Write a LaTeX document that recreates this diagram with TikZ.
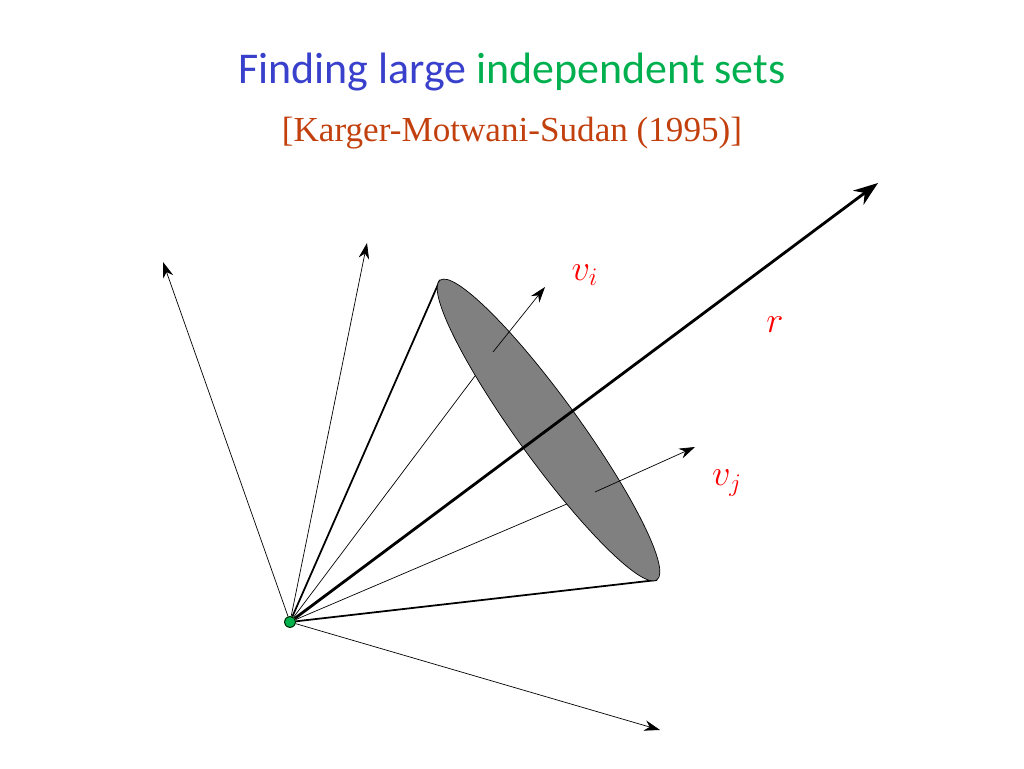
\documentclass[tikz,border=0pt]{standalone}
\usepackage{fontspec}
\setmainfont{Liberation Serif}
\newfontfamily\titlefont{Carlito}
\usetikzlibrary{arrows.meta}
\definecolor{titleblue}{rgb}{0.22,0.25,0.80}
\definecolor{titlegreen}{rgb}{0.0,0.69,0.31}
\definecolor{citered}{rgb}{0.76,0.25,0.05}
\tikzset{
  vec/.style={-{Stealth[length=9pt,width=6pt]}, thin},
  rvec/.style={-{Stealth[length=14pt,width=10pt]}, line width=1.6pt},
  coneedge/.style={line width=1pt},
  lbl/.style={text=red, font=\fontsize{22}{24}\selectfont}
}
\begin{document}
\begin{tikzpicture}[x=0.02cm,y=0.02cm]
  \useasboundingbox (0,0) rectangle (1024,768);
  % title
  \node (title) at (512,696) {\titlefont\fontsize{25}{30}\selectfont
    \textcolor{titleblue}{Finding large} \textcolor{titlegreen}{independent sets}};
  \node (cite) at (512,635) {\fontsize{20}{24}\selectfont\textcolor{citered}{[Karger-Motwani-Sudan (1995)]}};
  % origin and points
  \coordinate (o) at (290,146);
  \coordinate (a1) at (163,506);
  \coordinate (a2) at (367,525);
  \coordinate (vi) at (545,481);
  \coordinate (vj) at (695,321);
  \coordinate (a5) at (660,38);
  \coordinate (r) at (878,585);
  \coordinate (c1) at (440,488);
  \coordinate (c2) at (657,188);
  \coordinate (pi) at (493,416);
  \coordinate (pj) at (595,276);
  % vectors behind the cap
  \draw[vec] (o) -- (a1);
  \draw[vec] (o) -- (a2);
  \draw[vec] (o) -- (a5);
  \draw[thin] (o) -- (pi);
  \draw[thin] (o) -- (pj);
  \draw[coneedge] (o) -- (c1);
  \draw[coneedge] (o) -- (c2);
  % cap of the cone
  \draw[fill=gray] (548.5,338) circle [x radius=3.7cm, y radius=0.62cm, rotate=-54.1];
  \draw[vec] (pi) -- (vi);
  \draw[vec] (pj) -- (vj);
  \draw[rvec] (o) -- (r);
  \fill[green!60!black!80] (o) circle [radius=6];
  \draw[fill=teal!60!green] (o) circle [radius=5.5];
  % labels
  \node[lbl] (lvi) at (585,493) {$v_i$};
  \node[lbl] (lr) at (775,443) {$r$};
  \node[lbl] (lvj) at (727,285) {$v_j$};
\end{tikzpicture}
\end{document}
